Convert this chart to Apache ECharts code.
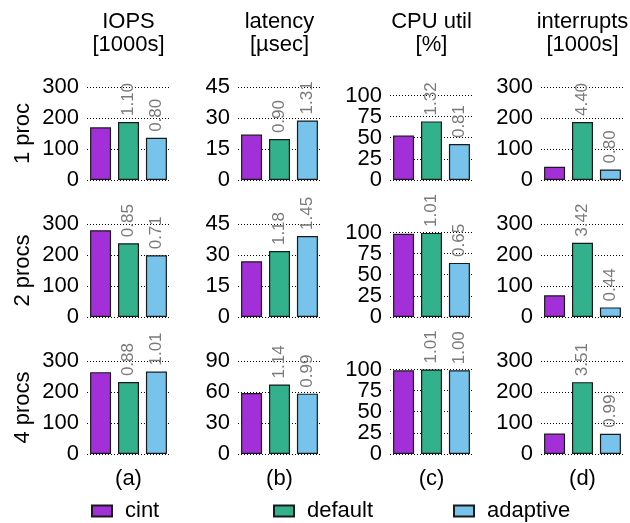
<!DOCTYPE html>
<html>
<head>
<meta charset="utf-8">
<script src="https://cdn.jsdelivr.net/npm/echarts@6/dist/echarts.min.js"></script>
<style>
  html, body { margin: 0; padding: 0; background: #fff; }
  #chart { width: 630px; height: 523px; }
</style>
</head>
<body>
<div id="chart"></div>
<script>
// Interrupt-coalescing methods compared in each panel
const methods = ['cint', 'default', 'adaptive'];
const methodColors = ['#a32fd9', '#33b08c', '#77c3ec'];
const rowNames = ['1 proc', '2 procs', '4 procs'];
const metricTitles = ['IOPS\n[1000s]', 'latency\n[µsec]', 'CPU util\n[%]', 'interrupts\n[1000s]'];
const panelTags = ['(a)', '(b)', '(c)', '(d)'];

// Values per row (1, 2, 4 procs), ordered cint / default / adaptive
const iops       = [[170, 187, 136], [280, 238, 199], [264, 232, 266]];
const latency    = [[22, 19.8, 28.8], [27, 31.9, 39.2], [59, 67.3, 58.4]];
const cpuUtil    = [[52.5, 69.3, 42.5], [98.5, 99.5, 64], [99, 100, 99]];
const interrupts = [[42.5, 187, 34], [70, 239.5, 31], [66, 231.7, 65.3]];

// Ratios to cint printed above default / adaptive bars
const iopsRatio       = [['1.10', '0.80'], ['0.85', '0.71'], ['0.88', '1.01']];
const latencyRatio    = [['0.90', '1.31'], ['1.18', '1.45'], ['1.14', '0.99']];
const cpuUtilRatio    = [['1.32', '0.81'], ['1.01', '0.65'], ['1.01', '1.00']];
const interruptsRatio = [['4.40', '0.80'], ['3.42', '0.44'], ['3.51', '0.99']];

// Y scales per metric and row
const iopsMax = [300, 300, 300],      iopsStep = [100, 100, 100];
const latencyMax = [45, 45, 90],      latencyStep = [15, 15, 30];
const cpuMax = [110, 110, 110],       cpuStep = [25, 25, 25];
const interruptsMax = [300, 300, 300], interruptsStep = [100, 100, 100];

const metricValues = [iops, latency, cpuUtil, interrupts];
const metricRatios = [iopsRatio, latencyRatio, cpuUtilRatio, interruptsRatio];
const metricMax = [iopsMax, latencyMax, cpuMax, interruptsMax];
const metricStep = [iopsStep, latencyStep, cpuStep, interruptsStep];

const FONT = '"Liberation Sans", Arial, Helvetica, sans-serif';
const colLeft = [87, 238, 390, 541];
const colWidth = 83;
const rowTop = [87, 224, 361];
const rowHeight = 93;

const labelBase = { color: '#000', fontSize: 22, fontFamily: FONT, margin: 8, hideOverlap: false };

const grids = [], xAxes = [], yAxes = [], series = [];
let g = 0;
for (let r = 0; r < 3; r++) {
  for (let c = 0; c < 4; c++) {
    grids.push({ left: colLeft[c], top: rowTop[r], width: colWidth, height: rowHeight, containLabel: false });
    xAxes.push({ type: 'category', gridIndex: g, data: [''], show: false });
    const isCpu = c === 2;
    const yIndex = yAxes.length;
    yAxes.push({
      type: 'value', gridIndex: g, position: 'left', min: 0,
      max: metricMax[c][r], interval: metricStep[c][r],
      axisLine: { show: false }, axisTick: { show: false },
      axisLabel: Object.assign({}, labelBase, isCpu
        ? { showMinLabel: false, showMaxLabel: false }
        : { showMinLabel: true, showMaxLabel: true }),
      splitLine: {
        show: true, showMaxLine: !isCpu,
        lineStyle: { color: '#000', width: 1, type: [1, 2] }
      }
    });
    if (isCpu) {
      // The CPU ticks are packed tighter than the font height; the zero
      // label comes from a companion axis so the 25 label is not dropped.
      yAxes.push({
        type: 'value', gridIndex: g, position: 'left', offset: 0,
        min: 0, max: metricMax[c][r], interval: metricMax[c][r],
        axisLine: { show: false }, axisTick: { show: false }, splitLine: { show: false },
        axisLabel: Object.assign({}, labelBase, {
          showMinLabel: true, showMaxLabel: false,
          formatter: v => (v === 0 ? '0' : '')
        })
      });
    }
    for (let m = 0; m < 3; m++) {
      const s = {
        type: 'bar', name: methods[m], xAxisIndex: g, yAxisIndex: yIndex,
        data: [metricValues[c][r][m]],
        barWidth: 21, barGap: '33%',
        itemStyle: { color: methodColors[m], borderColor: '#1a1a1a', borderWidth: 1.2 },
        emphasis: { disabled: true }
      };
      if (m > 0) {
        const txt = metricRatios[c][r][m - 1];
        s.label = {
          show: true, position: 'top', rotate: 90, distance: 6,
          align: 'left', verticalAlign: 'middle',
          color: '#7a7a7a', fontSize: 17, fontFamily: FONT,
          formatter: () => txt
        };
      }
      series.push(s);
    }
    g++;
  }
}

const graphics = [];
// column headers and panel tags
for (let c = 0; c < 4; c++) {
  graphics.push({
    type: 'text', x: colLeft[c] + colWidth / 2, y: 10,
    style: { text: metricTitles[c], fill: '#000', font: '22px ' + FONT, textAlign: 'center', textVerticalAlign: 'top', lineHeight: 23 }
  });
  graphics.push({
    type: 'text', x: colLeft[c] + colWidth / 2, y: 479,
    style: { text: panelTags[c], fill: '#000', font: '22px ' + FONT, textAlign: 'center', textVerticalAlign: 'middle' }
  });
}
// row labels
for (let r = 0; r < 3; r++) {
  graphics.push({
    type: 'text', x: 23, y: rowTop[r] + rowHeight / 2, rotation: Math.PI / 2,
    style: { text: rowNames[r], fill: '#000', font: '22px ' + FONT, textAlign: 'center', textVerticalAlign: 'middle' }
  });
}

const legendLeft = [91, 273, 453];
const legends = methods.map((name, i) => ({
  data: [name], left: legendLeft[i], top: 500, padding: 0,
  icon: 'rect', itemWidth: 20, itemHeight: 11,
  selectedMode: false,
  textStyle: { fontSize: 22, fontFamily: FONT, color: '#000', padding: [0, 0, 0, 8] }
}));

const chart = echarts.init(document.getElementById('chart'), null, { renderer: 'canvas' });
chart.setOption({
  animation: false,
  backgroundColor: '#fff',
  grid: grids,
  xAxis: xAxes,
  yAxis: yAxes,
  legend: legends,
  series: series,
  graphic: graphics
});
</script>
</body>
</html>
